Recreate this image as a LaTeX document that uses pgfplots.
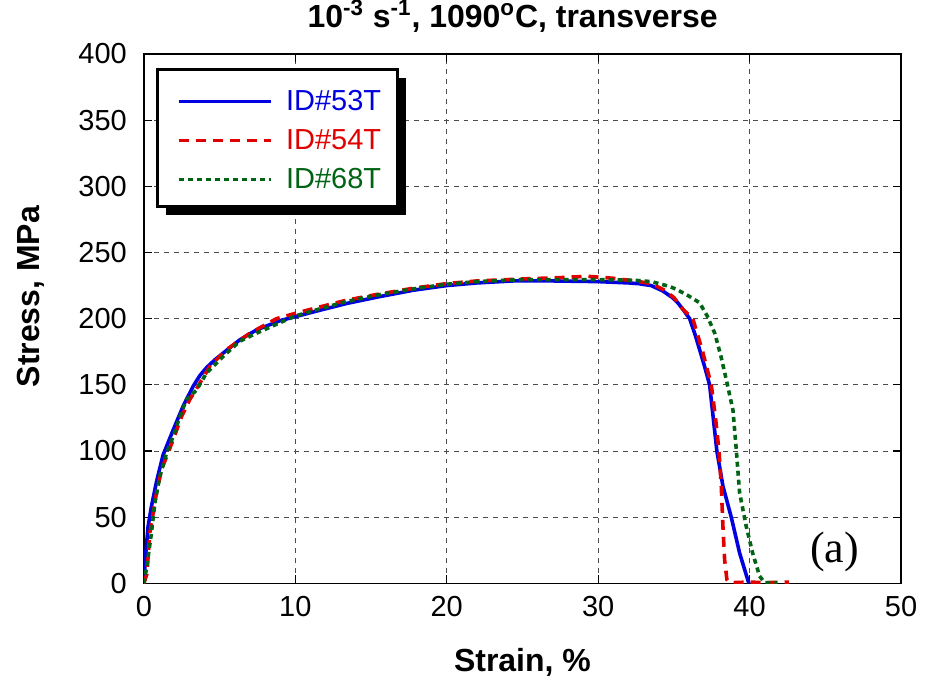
\documentclass[border=0pt]{standalone}
\usepackage{fontspec}
\setmainfont{Liberation Sans}
\newfontfamily\seriffont{Liberation Serif}
\usepackage{pgfplots}
\pgfplotsset{compat=1.18}
\definecolor{cblue}{RGB}{0,0,225}
\definecolor{cred}{RGB}{225,0,0}
\definecolor{cgreen}{RGB}{0,100,20}
\begin{document}
\begin{tikzpicture}
\useasboundingbox (-72pt,-50.5pt) rectangle (391pt,292pt);
\begin{axis}[
  scale only axis, width=379pt, height=265pt,
  xmin=0, xmax=50, ymin=0, ymax=400,
  xtick={0,10,...,50}, ytick={0,50,...,400},
  grid=major,
  major grid style={black!70, line width=0.5pt, dash pattern=on 2.5pt off 2.5pt},
  axis line style={line width=0.8pt},
  tick style={black, line width=0.6pt},
  major tick length=4pt,
  tick align=inside,
  /pgf/number format/assume math mode=true,
  ticklabel style={font=\fontsize{14.5}{17}\selectfont},
  yticklabel style={xshift=-5pt},
  xticklabel style={yshift=-3pt},
  title={10\textsuperscript{-3} s\textsuperscript{-1}, 1090\textsuperscript{o}C, transverse},
  title style={font=\bfseries\fontsize{16}{19}\selectfont, at={(axis description cs:0.487,1)}, anchor=base, yshift=7pt},
  xlabel={Strain, \%},
  xlabel style={font=\bfseries\fontsize{16}{19}\selectfont, at={(axis description cs:0.5,0)}, anchor=base, yshift=-44pt},
  ylabel={Stress, MPa},
  ylabel style={font=\bfseries\fontsize{16}{19}\selectfont, at={(axis description cs:-0.149,0.5415)}, anchor=center},
  legend style={at={(axis description cs:0.0185,0.97)}, anchor=north west,
    draw=none, fill=none,
    font=\fontsize{14.5}{17}\selectfont, inner xsep=9.5pt, inner ysep=8pt, row sep=4pt},
  legend cell align=left,
  legend image code/.code={\draw[#1, line width=1.5pt] (0pt,0pt) -- (46pt,0pt);},
]
\fill[black] (axis description cs:0.029,0.696) rectangle (axis description cs:0.346,0.955);
\draw[line width=1.5pt, fill=white] (axis description cs:0.0185,0.711) rectangle (axis description cs:0.335,0.970);
\addplot[cblue, line width=1.8pt] coordinates {
(0,0) (0.13,23) (0.28,43) (0.5,58) (0.84,77) (1.27,97) (1.94,116) (2.6,134) (3.26,149)
(3.7,157) (4.14,163) (4.7,169) (5.24,174) (6.34,184) (7.44,191.5) (9.0,198.5) (10,201.5) (11.5,206) (13.4,211.5)
(15.5,216.5) (17.8,221.5) (20,225) (22,227) (24.4,228.5) (27,228.5) (30,228) (32,227)
(32.7,226.4) (33.5,225) (34.26,221) (34.94,215.6) (35.26,212) (35.6,207) (36.04,200)
(36.4,188) (36.7,176.6) (37.05,163) (37.36,150) (37.6,125) (37.84,100) (38.24,73.5)
(38.79,50) (39.34,23) (39.95,0)
};
\addlegendentry{\hspace*{5pt}\textcolor{cblue}{ID\#53T}\hspace*{22pt}}
\addplot[cred, line width=1.8pt, dash pattern=on 5pt off 3.5pt] coordinates {
(0,0) (0.2,7) (0.4,38.6) (0.84,68.5) (1.17,86) (1.94,108.7) (2.49,126) (3.04,139) (3.58,149)
(4.36,164) (5.46,176.6) (7.0,189) (8.76,200) (10,204) (11.5,208.5) (13.4,214) (15.5,218.5)
(17.8,223) (20,226.5) (22,228.5) (25,230) (27.5,231) (29.3,232) (31,230.5) (32.7,228)
(33.5,226.5) (34.3,222) (35,216) (35.6,207) (36.25,200) (36.9,175) (37.47,150)
(37.75,125) (37.98,100) (38.13,73.5) (38.24,43) (38.35,18) (38.5,3) (38.7,0.5)
(40,1) (41,0.5) (42.6,1)
};
\addlegendentry{\hspace*{5pt}\textcolor{cred}{ID\#54T}\hspace*{22pt}}
\addplot[cgreen, line width=1.8pt, dash pattern=on 2.5pt off 2pt] coordinates {
(0,0) (0.2,13) (0.5,38) (0.73,61) (1.06,81) (1.5,98.5) (1.94,111) (2.38,126) (2.82,139)
(3.48,146) (4.14,159) (5.24,171.5) (6.34,183) (7.44,189) (9.0,197) (10,202) (11.5,207)
(13.4,213) (15.5,218) (17.8,222.5) (20,226) (22,228) (25,229.5) (28,229.5) (30,229.5)
(32.4,229) (33.5,228) (34.7,224.4) (35.2,222) (36,217) (36.7,212) (37.2,202) (37.7,189)
(38.1,172) (38.46,154) (38.9,131) (39.1,104) (39.34,68.5) (39.78,43) (40.2,23)
(40.66,5.5) (41,0.5) (41.8,0.5)
};
\addlegendentry{\hspace*{5pt}\textcolor{cgreen}{ID\#68T}\hspace*{22pt}}
\node[font=\seriffont\fontsize{22}{26}\selectfont] at (axis cs:45.6,23.4) {(a)};
\end{axis}
\end{tikzpicture}
\end{document}
